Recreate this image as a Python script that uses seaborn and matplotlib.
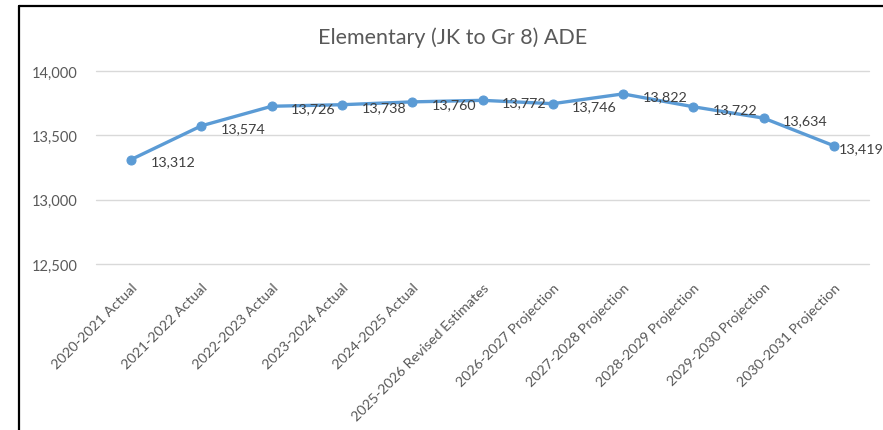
import matplotlib
matplotlib.use("Agg")
import matplotlib.pyplot as plt
import seaborn as sns
import pandas as pd
from matplotlib.lines import Line2D
from matplotlib.ticker import FuncFormatter, MultipleLocator

categories = ["2020-2021 Actual", "2021-2022 Actual", "2022-2023 Actual", "2023-2024 Actual",
              "2024-2025 Actual", "2025-2026 Revised Estimates", "2026-2027 Projection",
              "2027-2028 Projection", "2028-2029 Projection", "2029-2030 Projection",
              "2030-2031 Projection"]
ade = [13312, 13574, 13726, 13738, 13760, 13772, 13746, 13822, 13722, 13634, 13419]
title = "Elementary (JK to Gr 8) ADE"

sns.set_theme(style="white")
plt.rcParams['font.family'] = ['Lato', 'DejaVu Sans']

W, H = 883, 431
fig = plt.figure(figsize=(W / 100, H / 100), dpi=100)
fig.patch.set_facecolor("white")
ax = fig.add_axes([96 / W, 1 - 265 / H, (869 - 96) / W, (265 - 72) / H])

df = pd.DataFrame({"x": range(len(categories)), "y": ade})
blue = "#5B9BD5"
grey = "#595959"
sns.lineplot(data=df, x="x", y="y", ax=ax, color=blue, linewidth=2.4,
             marker="o", markersize=6.5, markeredgecolor=blue, markerfacecolor=blue)

ax.set_xlim(-0.5, len(categories) - 0.5)
ax.set_ylim(12500, 14000)
ax.yaxis.set_major_locator(MultipleLocator(500))
ax.yaxis.set_major_formatter(FuncFormatter(lambda v, p: f"{int(round(v)):,}"))
ax.grid(axis="y", color="#D9D9D9", linewidth=1)
ax.set_axisbelow(True)
for gl in ax.get_ygridlines():
    gl.set_clip_on(False)
for s in ax.spines.values():
    s.set_visible(False)
ax.set_xlabel("")
ax.set_ylabel("")
ax.tick_params(axis="y", length=0, pad=13.5, labelsize=10.5, labelcolor=grey)
ax.tick_params(axis="x", length=0, pad=12, labelsize=10.3, labelcolor=grey)
ax.set_xticks(range(len(categories)))
ax.set_xticklabels(categories, rotation=45, ha="right", va="top", rotation_mode="anchor")

n = len(ade)
for i, v in enumerate(ade):
    dx = 14 if i < n - 1 else 3.5
    ax.annotate(f"{v:,}", (i, v), xytext=(dx, -1.5), textcoords="offset points",
                ha="left", va="center", fontsize=10.3, color="#404040")

fig.text(453 / W, 1 - 38 / H, title, ha="center", va="center", fontsize=15.5, color=grey)

# outer border lines (top and left)
fig.add_artist(Line2D([18.5 / W, 1], [1 - 7 / H, 1 - 7 / H], transform=fig.transFigure,
                      color="black", linewidth=1.6))
fig.add_artist(Line2D([18.5 / W, 18.5 / W], [0, 1 - 7 / H], transform=fig.transFigure,
                      color="black", linewidth=1.6))

fig.savefig("out.png", dpi=100, facecolor="white")
